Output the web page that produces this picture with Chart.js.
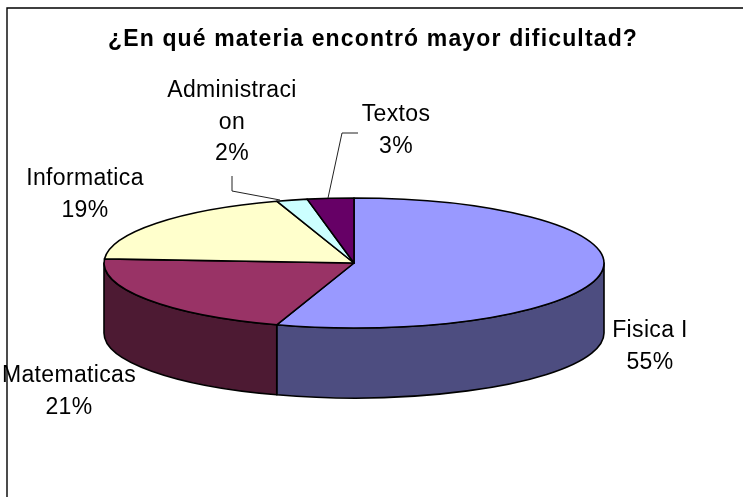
<!DOCTYPE html>
<html>
<head>
<meta charset="utf-8">
<style>html,body{margin:0;padding:0;background:#fff}canvas{display:block}</style>
<script src="https://cdn.jsdelivr.net/npm/chart.js@4"></script>
</head>
<body>
<canvas id="c" width="743" height="497"></canvas>
<script>
const chartTitle = '¿En qué materia encontró mayor dificultad?';
const categories = ['Fisica I', 'Matematicas', 'Informatica', 'Administracion', 'Textos'];
const shares = [55, 21, 19, 2, 3];
const topColors = ['#9999ff', '#993366', '#ffffcc', '#ccffff', '#660066'];
const sideColors = ['#4d4d80', '#4d1a33', '#808066', '#668080', '#330033'];
// Label text lines (as wrapped in the picture) and their placement
const labelLines = [['Fisica I'], ['Matematicas'], ['Informatica'], ['Administraci', 'on'], ['Textos']];
const labelAnchors = [[650, 331], [69, 376], [85, 179], [232, 91], [396, 115]];
const leaders = [null, null, null, [[232,176],[232,191],[280,200]], [[358,133],[342,133],[328,198]]];

const squash = 65 / 250, depth = 70;

const pie3d = {
  id: 'pie3d',
  beforeDraw(chart) {
    const { ctx, canvas } = chart;
    ctx.save();
    ctx.fillStyle = '#fff';
    ctx.fillRect(0, 0, canvas.width, canvas.height);
    ctx.strokeStyle = '#000';
    ctx.lineWidth = 1.4;
    ctx.beginPath();
    ctx.moveTo(7, 497);
    ctx.lineTo(7, 8);
    ctx.lineTo(743, 8);
    ctx.stroke();
    ctx.restore();
  },
  beforeDatasetsDraw(chart) {
    const { ctx } = chart;
    const arcs = chart.getDatasetMeta(0).data;
    const trace = (a, dy, fn) => {
      ctx.save();
      ctx.translate(a.x, a.y + dy);
      ctx.scale(1, squash);
      fn();
      ctx.restore();
    };
    ctx.save();
    ctx.lineWidth = 1.6;
    ctx.lineJoin = 'round';
    ctx.strokeStyle = '#000';
    // Side walls: only the front half (canvas angles 0..PI, modulo full turns)
    arcs.forEach((a, i) => {
      const s = a.startAngle, e = a.endAngle;
      for (const k of [0, 2]) {
        const lo = Math.max(s, k * Math.PI), hi = Math.min(e, (k + 1) * Math.PI);
        if (hi <= lo) continue;
        ctx.beginPath();
        trace(a, 0, () => ctx.arc(0, 0, a.outerRadius, lo, hi));
        trace(a, depth, () => ctx.arc(0, 0, a.outerRadius, hi, lo, true));
        ctx.closePath();
        ctx.fillStyle = sideColors[i];
        ctx.fill();
        ctx.stroke();
      }
    });
    // Top faces
    arcs.forEach((a, i) => {
      ctx.beginPath();
      trace(a, 0, () => {
        ctx.moveTo(0, 0);
        ctx.arc(0, 0, a.outerRadius, a.startAngle, a.endAngle);
        ctx.closePath();
      });
      ctx.fillStyle = topColors[i];
      ctx.fill();
      ctx.stroke();
    });
    ctx.restore();
    return false;
  },
  afterDraw(chart) {
    const { ctx } = chart;
    ctx.save();
    ctx.strokeStyle = '#222';
    ctx.lineWidth = 1;
    leaders.forEach(l => {
      if (!l) return;
      ctx.beginPath();
      l.forEach((p, i) => i ? ctx.lineTo(p[0], p[1]) : ctx.moveTo(p[0], p[1]));
      ctx.stroke();
    });
    ctx.fillStyle = '#000';
    ctx.textAlign = 'center';
    ctx.textBaseline = 'middle';
    ctx.font = 'bold 23px "Liberation Sans"';
    ctx.letterSpacing = '1.15px';
    ctx.fillText(chartTitle, 373, 40);
    ctx.font = '23px "Liberation Sans"';
    ctx.letterSpacing = '0.35px';
    categories.forEach((c, i) => {
      const lines = labelLines[i].concat(shares[i] + '%');
      lines.forEach((t, j) => ctx.fillText(t, labelAnchors[i][0], labelAnchors[i][1] + j * 31.5));
    });
    ctx.restore();
  }
};

new Chart(document.getElementById('c'), {
  type: 'pie',
  data: {
    labels: categories,
    datasets: [{ data: shares, backgroundColor: topColors, radius: 250, borderWidth: 0 }]
  },
  options: {
    responsive: false,
    animation: false,
    devicePixelRatio: 1,
    layout: { padding: { left: 0, right: 35, top: 29, bottom: 0 } },
    plugins: {
      legend: { display: false },
      tooltip: { enabled: false },
      title: { display: false }
    }
  },
  plugins: [pie3d]
});
</script>
</body>
</html>
